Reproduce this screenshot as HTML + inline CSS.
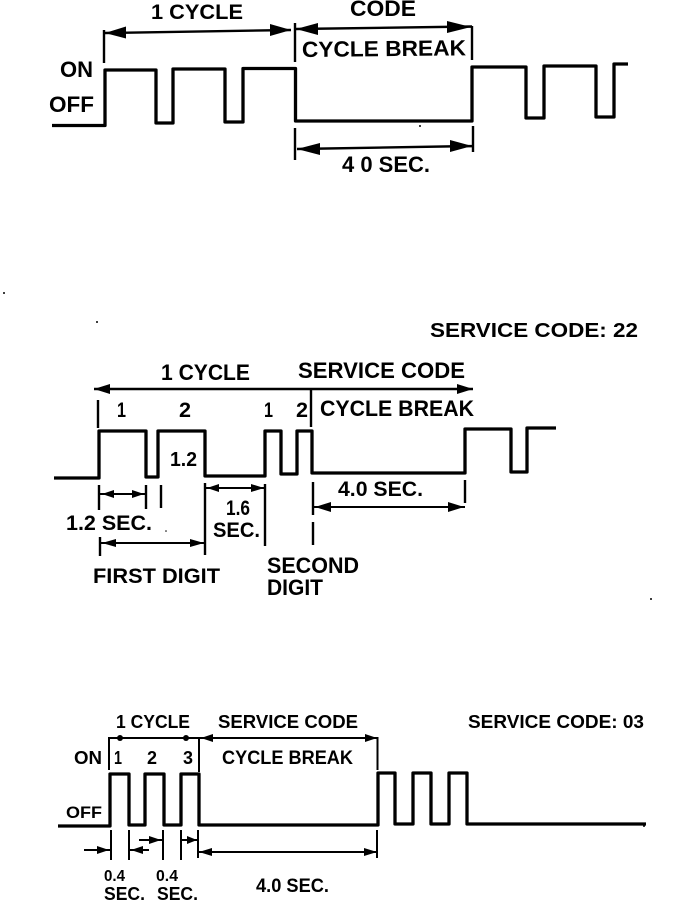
<!DOCTYPE html>
<html>
<head>
<meta charset="utf-8">
<style>
html,body{margin:0;padding:0;background:#fff;width:688px;height:902px;overflow:hidden}
svg{display:block}
text{font-family:"Liberation Sans",sans-serif;font-weight:700;fill:#000}
.w{fill:none;stroke:#000;stroke-width:3.3;stroke-linejoin:round}
.l{fill:none;stroke:#000;stroke-width:2.4}
.t{fill:none;stroke:#000;stroke-width:2}
.a{fill:#000}
</style>
</head>
<body>
<svg width="688" height="902" viewBox="0 0 688 902" xmlns="http://www.w3.org/2000/svg">
<rect width="688" height="902" fill="#fff"/>

<!-- Diagram 1 -->
<path class="w" d="M52 125.500H105V70H156V123H173V69H225V122H243V68.500H295.500V121H472V67H526V118H544V66H596V117H614V64H628"/>
<path class="l" d="M104 30V63M295 23V62M472 26V60M295 128V160M473 126V152M105 33L291 30M296 29L472 26.500M297 149L472 146"/>
<polygon class="a" points="105,33 126,26.500 126,38.500"/>
<polygon class="a" points="291,30 270,24 270,36"/>
<polygon class="a" points="296,29 318,23 318,35"/>
<polygon class="a" points="471,27 447,21 447,33"/>
<polygon class="a" points="297,149 320,143 320,155"/>
<polygon class="a" points="472,146 450,140 450,152"/>
<text x="151" y="19" font-size="21" textLength="92" lengthAdjust="spacingAndGlyphs">1 CYCLE</text>
<text x="350" y="16" font-size="22" textLength="66" lengthAdjust="spacingAndGlyphs">CODE</text>
<text x="302" y="57" font-size="22" textLength="164" lengthAdjust="spacingAndGlyphs" transform="rotate(-0.6 302 57)">CYCLE BREAK</text>
<text x="60" y="77" font-size="22" textLength="33" lengthAdjust="spacingAndGlyphs">ON</text>
<text x="49" y="112" font-size="22" textLength="45" lengthAdjust="spacingAndGlyphs">OFF</text>
<text x="342" y="172" font-size="22" textLength="88" lengthAdjust="spacingAndGlyphs">4 0 SEC.</text>

<!-- Diagram 2 -->
<path class="w" d="M54 478H99V431H146V477H158V431H205V476H265V431H281V474H297V431H312V473H465V429H511V472H527V428H556"/>
<path class="l" d="M94 389H473M98 400V428M311 390V427M99 485V510M146 485V509M161 485V508M205 483V555M265 484V546M313 482V515M313 522V545M465 480V503M100 537V556"/>
<path class="t" d="M100 494H146M206 488H265M314 507H465M101 543H205"/>
<polygon class="a" points="94,389 110,384 110,394"/>
<polygon class="a" points="473,389 457,384 457,394"/>
<polygon class="a" points="102,494 114,490 114,498"/>
<polygon class="a" points="144,494 132,490 132,498"/>
<polygon class="a" points="207,488 219,484 219,492"/>
<polygon class="a" points="264,488 251,484 251,492"/>
<polygon class="a" points="315,507 331,502 331,512"/>
<polygon class="a" points="464,507 448,502 448,512"/>
<polygon class="a" points="102,543 116,539 116,547"/>
<polygon class="a" points="204,543 190,539 190,547"/>
<text x="430" y="337" font-size="20" textLength="208" lengthAdjust="spacingAndGlyphs">SERVICE CODE: 22</text>
<text x="161" y="380" font-size="22" textLength="89" lengthAdjust="spacingAndGlyphs">1 CYCLE</text>
<text x="298" y="378" font-size="22" textLength="167" lengthAdjust="spacingAndGlyphs">SERVICE CODE</text>
<text x="117" y="417" font-size="21" textLength="9" lengthAdjust="spacingAndGlyphs">1</text>
<text x="179" y="417" font-size="21" textLength="12" lengthAdjust="spacingAndGlyphs">2</text>
<text x="264" y="417" font-size="21" textLength="9" lengthAdjust="spacingAndGlyphs">1</text>
<text x="296" y="417" font-size="21" textLength="12" lengthAdjust="spacingAndGlyphs">2</text>
<text x="320" y="416" font-size="22" textLength="154" lengthAdjust="spacingAndGlyphs">CYCLE BREAK</text>
<text x="170" y="466" font-size="20" textLength="27" lengthAdjust="spacingAndGlyphs">1.2</text>
<text x="66" y="530" font-size="21" textLength="86" lengthAdjust="spacingAndGlyphs">1.2 SEC.</text>
<text x="226" y="515" font-size="21" textLength="24" lengthAdjust="spacingAndGlyphs">1.6</text>
<text x="213" y="537" font-size="21" textLength="47" lengthAdjust="spacingAndGlyphs">SEC.</text>
<text x="338" y="496" font-size="21" textLength="85" lengthAdjust="spacingAndGlyphs">4.0 SEC.</text>
<text x="93" y="583" font-size="21" textLength="127" lengthAdjust="spacingAndGlyphs">FIRST DIGIT</text>
<text x="267" y="573" font-size="22" textLength="92" lengthAdjust="spacingAndGlyphs">SECOND</text>
<text x="267" y="595" font-size="22" textLength="56" lengthAdjust="spacingAndGlyphs">DIGIT</text>

<!-- Diagram 3 -->
<path class="w" d="M58 826H110V774H129V825H145V774H164V825H181V774H199V825H378V773H395V824H413V773H431V824H449V773H467V824H646"/>
<path class="t" d="M109 770V738H377.500V770M199 738V772M111 830V860M129 830V860M163 830V860M181 830V860M198 830V858M377 830V858"/>
<path class="t" d="M84 850H110M130 850H149M139 840H162M182 840H197M199 852H377"/>
<polygon class="a" points="109,850 97,846 97,854"/>
<polygon class="a" points="131,850 143,846 143,854"/>
<polygon class="a" points="161,840 149,836 149,844"/>
<polygon class="a" points="197,840 187,836 187,844"/>
<polygon class="a" points="199,852 212,848 212,856"/>
<polygon class="a" points="377,852 364,848 364,856"/>
<circle cx="120" cy="738" r="3" fill="#000"/>
<circle cx="186" cy="738" r="3" fill="#000"/>
<polygon class="a" points="201,738 213,734 213,742"/>
<polygon class="a" points="377,738 365,734 365,742"/>
<text x="116" y="728" font-size="18" textLength="74" lengthAdjust="spacingAndGlyphs">1 CYCLE</text>
<text x="218" y="728" font-size="18" textLength="140" lengthAdjust="spacingAndGlyphs">SERVICE CODE</text>
<text x="468" y="728" font-size="18" textLength="176" lengthAdjust="spacingAndGlyphs">SERVICE CODE: 03</text>
<text x="74" y="764" font-size="18" textLength="28" lengthAdjust="spacingAndGlyphs">ON</text>
<text x="114" y="764" font-size="18" textLength="8" lengthAdjust="spacingAndGlyphs">1</text>
<text x="147" y="764" font-size="18" textLength="10" lengthAdjust="spacingAndGlyphs">2</text>
<text x="183" y="764" font-size="18" textLength="10" lengthAdjust="spacingAndGlyphs">3</text>
<text x="222" y="764" font-size="19" textLength="131" lengthAdjust="spacingAndGlyphs">CYCLE BREAK</text>
<text x="66" y="818" font-size="17" textLength="36" lengthAdjust="spacingAndGlyphs">OFF</text>
<text x="104" y="881" font-size="16" textLength="21" lengthAdjust="spacingAndGlyphs">0.4</text>
<text x="104" y="900" font-size="18" textLength="41" lengthAdjust="spacingAndGlyphs">SEC.</text>
<text x="156" y="881" font-size="16" textLength="22" lengthAdjust="spacingAndGlyphs">0.4</text>
<text x="157" y="900" font-size="18" textLength="41" lengthAdjust="spacingAndGlyphs">SEC.</text>
<text x="256" y="892" font-size="19" textLength="73" lengthAdjust="spacingAndGlyphs">4.0 SEC.</text>

<!-- Specks -->
<circle cx="4" cy="293" r="1" fill="#000"/>
<circle cx="97" cy="322" r="1" fill="#000"/>
<circle cx="420" cy="126" r="1" fill="#000"/>
<circle cx="651" cy="599" r="1" fill="#000"/>
<circle cx="644" cy="826" r="1" fill="#000"/>
<circle cx="166" cy="531" r="0.8" fill="#000"/>
</svg>
</body>
</html>
